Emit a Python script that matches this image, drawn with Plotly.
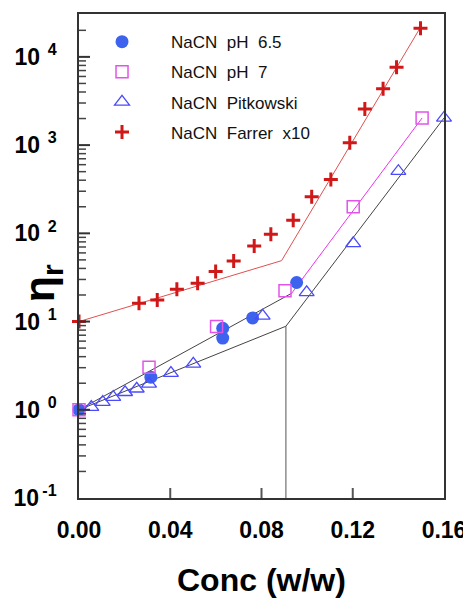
import plotly.graph_objects as go

# ---- data ----
ph65_x = [0.0, 0.0315, 0.063, 0.063, 0.0761, 0.0954]
ph65_y = [1.0, 2.34, 8.4, 6.5, 11.0, 27.7]

ph7_x = [0.0, 0.0307, 0.0603, 0.0903, 0.1202, 0.1504]
ph7_y = [1.0, 3.04, 8.8, 22.3, 200, 2030]

pit_x = [0.0054, 0.0104, 0.015, 0.0202, 0.0253, 0.0307, 0.0403, 0.0501, 0.0805, 0.0998, 0.1202, 0.14, 0.16]
pit_y = [1.07, 1.22, 1.39, 1.58, 1.73, 1.97, 2.60, 3.31, 11.6, 21.4, 77, 506, 2030]

far_x = [0.0, 0.0263, 0.0343, 0.0429, 0.052, 0.0599, 0.0678, 0.0768, 0.0841, 0.0939,
         0.102, 0.1104, 0.1187, 0.1253, 0.1333, 0.1392, 0.1497]
far_y = [10, 16.1, 17.5, 23.3, 27.2, 36.9, 48.6, 71.9, 97.5, 141,
         260, 408, 1060, 2565, 4350, 7650, 21100]

# fitted lines
red_fit_x = [0.0, 0.0888, 0.1494]
red_fit_y = [10, 49, 21000]
up_fit_x = [0.0, 0.0932]
up_fit_y = [1.0, 20.9]
mag_fit_x = [0.0932, 0.1504]
mag_fit_y = [20.9, 2030]
low_fit_x = [0.0, 0.0907, 0.16]
low_fit_y = [1.0, 8.85, 2030]
vert_x = [0.0907, 0.0907]
vert_y = [8.85, 0.1]

names = ["NaCN\u00a0 pH\u00a0 6.5", "NaCN\u00a0 pH\u00a0 7", "NaCN\u00a0 Pitkowski", "NaCN\u00a0 Farrer\u00a0 x10"]

y_tickvals = [0.1, 1, 10, 100, 1000, 10000]
y_ticktext = ["<b>10<sup>\u2009-1</sup></b>", "<b>10<sup>\u2009 0</sup></b>", "<b>10<sup>\u2009 1</sup></b>",
              "<b>10<sup>\u2009 2</sup></b>", "<b>10<sup>\u2009 3</sup></b>", "<b>10<sup>\u2009 4</sup></b>"]
y_minor_vals = [d * k for d in y_tickvals for k in range(2, 10) if d * k < 30000]
x_tickvals = [0.0, 0.04, 0.08, 0.12, 0.16]
x_ticktext = ["0.00", "0.04", "0.08", "0.12", "0.16"]

FONT = "Liberation Sans, Arial, sans-serif"
Y_RANGE = [-1, 4.486]
X_RANGE = [0, 0.16]

fig = go.Figure()

# lines
fig.add_trace(go.Scatter(x=red_fit_x, y=red_fit_y, mode="lines", line=dict(color="#e05050", width=1), showlegend=False, hoverinfo="skip"))
fig.add_trace(go.Scatter(x=up_fit_x, y=up_fit_y, mode="lines", line=dict(color="#444444", width=1), showlegend=False, hoverinfo="skip"))
fig.add_trace(go.Scatter(x=mag_fit_x, y=mag_fit_y, mode="lines", line=dict(color="#ee33ee", width=1), showlegend=False, hoverinfo="skip"))
fig.add_trace(go.Scatter(x=low_fit_x, y=low_fit_y, mode="lines", line=dict(color="#444444", width=1), showlegend=False, hoverinfo="skip"))
fig.add_trace(go.Scatter(x=vert_x, y=vert_y, mode="lines", line=dict(color="#555555", width=1), showlegend=False, hoverinfo="skip"))

# markers
fig.add_trace(go.Scatter(x=ph65_x, y=ph65_y, mode="markers", name=names[0], legendgroup="a",
                         marker=dict(symbol="circle", size=13, color="#3d62ee"), cliponaxis=False))
fig.add_trace(go.Scatter(x=ph7_x, y=ph7_y, mode="markers", name=names[1], legendgroup="b",
                         marker=dict(symbol="square-open", size=12, color="#e055e8", line=dict(width=1.5)), cliponaxis=False))
fig.add_trace(go.Scatter(x=pit_x, y=pit_y, mode="markers", name=names[2], legendgroup="c",
                         marker=dict(symbol="triangle-up-open", size=13, color="#4a4aff", line=dict(width=1.3)), cliponaxis=False))
fig.add_trace(go.Scatter(x=far_x, y=far_y, mode="markers", name=names[3], legendgroup="d",
                         marker=dict(symbol="cross-thin", size=10, color="#d01818", line=dict(width=3, color="#d01818")), cliponaxis=False))

# inside tick marks drawn as shapes at the tick values
PLOT_W, PLOT_H = 365, 484
X_SPAN = X_RANGE[1] - X_RANGE[0]
shapes = []
for v in y_tickvals:
    if v > 10 ** Y_RANGE[0]:
        shapes.append(dict(type="line", xref="x", yref="y", x0=X_RANGE[0], x1=X_RANGE[0] + X_SPAN * 11 / PLOT_W,
                           y0=v, y1=v, layer="above", line=dict(color="#333", width=2)))
for v in y_minor_vals:
    shapes.append(dict(type="line", xref="x", yref="y", x0=X_RANGE[0], x1=X_RANGE[0] + X_SPAN * 7 / PLOT_W,
                       y0=v, y1=v, layer="above", line=dict(color="#444", width=1.5)))
for v in x_tickvals:
    if X_RANGE[0] < v < X_RANGE[1]:
        shapes.append(dict(type="line", xref="x", yref="paper", x0=v, x1=v, y0=0, y1=10 / PLOT_H,
                           layer="above", line=dict(color="#555", width=2)))

fig.update_layout(
    width=463, height=592,
    margin=dict(l=71, r=27, t=6, b=102, autoexpand=False),
    paper_bgcolor="white", plot_bgcolor="white",
    font=dict(family=FONT, color="black"),
    shapes=shapes,
    legend=dict(x=-0.0164, y=0.979, xanchor="left", yanchor="top",
                font=dict(size=17, family=FONT, color="#111"),
                bgcolor="rgba(0,0,0,0)", itemwidth=88,
                traceorder="grouped", tracegroupgap=5),
    xaxis=dict(range=X_RANGE, tickvals=x_tickvals, ticktext=x_ticktext, automargin=False,
               ticks="", showline=True, linecolor="#333", linewidth=1.5, mirror=True,
               showgrid=False, zeroline=False,
               tickfont=dict(size=23, family=FONT, color="black", weight="bold"),
               ticklabelstandoff=11),
    yaxis=dict(type="log", range=Y_RANGE, tickvals=y_tickvals, ticktext=y_ticktext, automargin=False,
               ticks="", showline=True, linecolor="#333", linewidth=1.5, mirror=True,
               showgrid=False, zeroline=False,
               tickfont=dict(size=23, family=FONT, color="black"),
               ticklabelstandoff=16),
    annotations=[
        dict(text="<b>Conc (w/w)</b>", xref="paper", yref="paper", x=0.499, y=-0.17,
             xanchor="center", yanchor="middle", showarrow=False,
             font=dict(size=32, family=FONT, color="black")),
        dict(text="<b>η<sub>r</sub></b>", xref="paper", yref="paper", x=-0.101, y=0.444,
             xanchor="center", yanchor="middle", showarrow=False, textangle=-90,
             font=dict(size=43, family=FONT, color="black")),
    ],
)

fig.write_html("out.html")
